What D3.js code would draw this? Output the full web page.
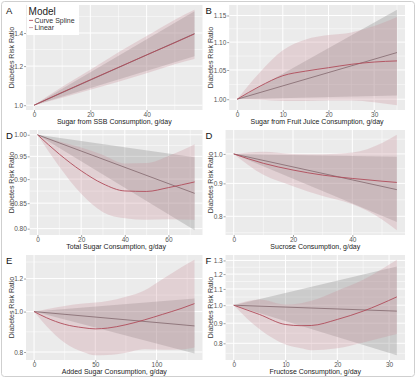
<!DOCTYPE html>
<html><head><meta charset="utf-8">
<script src="https://cdn.jsdelivr.net/npm/d3@7"></script>
<style>
body{margin:0;background:#fff}
svg{display:block}
text{font-family:"Liberation Sans",Arial,Helvetica,sans-serif}
</style>
</head><body>
<svg id="c" width="418" height="379"></svg>
<script>
// ---------- DATA ----------
// A: Sugar from SSB
const ssbX = [0,10,20,30,40,50,57];
const ssbSpline   = [1.000,1.062,1.126,1.193,1.264,1.338,1.394];
const ssbSplineLo = [1.000,1.035,1.075,1.115,1.160,1.210,1.240];
const ssbSplineHi = [1.000,1.090,1.180,1.280,1.380,1.490,1.560];
const ssbLinX = [0,57];
const ssbLinear   = [1.000,1.396];
const ssbLinearLo = [1.000,1.257];
const ssbLinearHi = [1.000,1.550];
const ssbXTicks = [0,20,40];
const ssbYTicks = [1.0,1.2,1.4];
const ssbYLabels = ["1.0","1.2","1.4"];

// B: Sugar from fruit juice
const juiceX = [0,5,10,15,20,25,30,35];
const juiceSpline   = [1.000,1.022,1.040,1.048,1.054,1.060,1.064,1.066];
const juiceSplineLo = [1.000,0.999,0.997,0.997,0.998,0.998,0.995,0.990];
const juiceSplineHi = [1.000,1.046,1.085,1.105,1.113,1.118,1.130,1.147];
const juiceLinX = [0,35];
const juiceLinear   = [1.000,1.081];
const juiceLinearLo = [1.000,1.006];
const juiceLinearHi = [1.000,1.161];
const juiceXTicks = [0,10,20,30];
const juiceYTicks = [1.00,1.05,1.10,1.15];
const juiceYLabels = ["1.00","1.05","1.10","1.15"];

// D: Total sugar
const totalX = [0,10,20,30,40,50,60,72];
const totalSpline   = [1.000,0.955,0.918,0.890,0.875,0.874,0.882,0.894];
const totalSplineLo = [1.000,0.927,0.869,0.832,0.820,0.817,0.818,0.817];
const totalSplineHi = [1.000,0.984,0.970,0.953,0.934,0.935,0.951,0.978];
const totalLinX = [0,72];
const totalLinear   = [1.000,0.870];
const totalLinearLo = [1.000,0.797];
const totalLinearHi = [1.000,0.948];
const totalXTicks = [0,20,40,60];
const totalYTicks = [0.80,0.85,0.90,0.95,1.00];
const totalYLabels = ["0.80","0.85","0.90","0.95","1.00"];

// D: Sucrose
const sucroseX = [0,10,20,30,40,50,55];
const sucroseSpline   = [1.000,0.967,0.944,0.927,0.916,0.907,0.903];
const sucroseSplineLo = [1.000,0.928,0.891,0.860,0.835,0.791,0.761];
const sucroseSplineHi = [1.000,1.008,1.000,0.999,1.005,1.040,1.071];
const sucroseLinX = [0,55];
const sucroseLinear   = [1.000,0.880];
const sucroseLinearLo = [1.000,0.784];
const sucroseLinearHi = [1.000,0.990];
const sucroseXTicks = [0,20,40];
const sucroseYTicks = [0.8,0.9,1.0];
const sucroseYLabels = ["0.8","0.9","1.0"];

// E: Added sugar
const addedX = [0,10,25,40,50,60,75,90,105,120,131];
const addedSpline   = [1.000,0.967,0.932,0.915,0.909,0.913,0.930,0.955,0.985,1.017,1.045];
const addedSplineLo = [1.000,0.923,0.842,0.800,0.786,0.787,0.797,0.812,0.810,0.811,0.820];
const addedSplineHi = [1.000,1.013,1.032,1.046,1.051,1.060,1.085,1.124,1.197,1.276,1.331];
const addedLinX = [0,131];
const addedLinear   = [1.000,0.924];
const addedLinearLo = [1.000,0.794];
const addedLinearHi = [1.000,1.075];
const addedXTicks = [0,50,100];
const addedYTicks = [0.8,1.0,1.2];
const addedYLabels = ["0.8","1.0","1.2"];

// F: Fructose
const fructoseX = [0,5,10,13,15,20,25,31.5];
const fructoseSpline   = [1.000,0.947,0.893,0.887,0.888,0.920,0.966,1.050];
const fructoseSplineLo = [1.000,0.868,0.794,0.777,0.768,0.777,0.804,0.845];
const fructoseSplineHi = [1.000,1.034,1.004,1.012,1.026,1.089,1.161,1.305];
const fructoseLinX = [0,31.5];
const fructoseLinear   = [1.000,0.966];
const fructoseLinearLo = [1.000,0.746];
const fructoseLinearHi = [1.000,1.255];
const fructoseXTicks = [0,10,20,30];
const fructoseYTicks = [0.8,0.9,1.0,1.1,1.2,1.3];
const fructoseYLabels = ["0.8","0.9","1.0","1.1","1.2","1.3"];

const panelLetters = ["A","B","D","D","E","F"];
const xTitles = ["Sugar from SSB Consumption, g/day","Sugar from Fruit Juice Consumption, g/day",
  "Total Sugar Consumption, g/day","Sucrose Consumption, g/day",
  "Added Sugar Consumption, g/day","Fructose Consumption, g/day"];
const yTitle = "Diabetes Risk Ratio";
const legendTitle = "Model";
const legendLabels = ["Curve Spline","Linear"];

// ---------- BUILD ----------
const panels = [
  {x:ssbX,s:ssbSpline,sl:ssbSplineLo,sh:ssbSplineHi,lx:ssbLinX,l:ssbLinear,ll:ssbLinearLo,lh:ssbLinearHi,xt:ssbXTicks,yt:ssbYTicks,yl:ssbYLabels},
  {x:juiceX,s:juiceSpline,sl:juiceSplineLo,sh:juiceSplineHi,lx:juiceLinX,l:juiceLinear,ll:juiceLinearLo,lh:juiceLinearHi,xt:juiceXTicks,yt:juiceYTicks,yl:juiceYLabels},
  {x:totalX,s:totalSpline,sl:totalSplineLo,sh:totalSplineHi,lx:totalLinX,l:totalLinear,ll:totalLinearLo,lh:totalLinearHi,xt:totalXTicks,yt:totalYTicks,yl:totalYLabels},
  {x:sucroseX,s:sucroseSpline,sl:sucroseSplineLo,sh:sucroseSplineHi,lx:sucroseLinX,l:sucroseLinear,ll:sucroseLinearLo,lh:sucroseLinearHi,xt:sucroseXTicks,yt:sucroseYTicks,yl:sucroseYLabels},
  {x:addedX,s:addedSpline,sl:addedSplineLo,sh:addedSplineHi,lx:addedLinX,l:addedLinear,ll:addedLinearLo,lh:addedLinearHi,xt:addedXTicks,yt:addedYTicks,yl:addedYLabels},
  {x:fructoseX,s:fructoseSpline,sl:fructoseSplineLo,sh:fructoseSplineHi,lx:fructoseLinX,l:fructoseLinear,ll:fructoseLinearLo,lh:fructoseLinearHi,xt:fructoseXTicks,yt:fructoseYTicks,yl:fructoseYLabels}
];

const svg = d3.select("#c");
svg.append("rect").attr("x",1.5).attr("y",1.5).attr("width",413).attr("height",375)
  .attr("rx",3).attr("fill","#fff").attr("stroke","#cfcfcf").attr("stroke-width",1);

const rowTops = [5,130,255];
const panelH = 105;
const colX = [0,199.5];
const colRight = [202.5,405];
const tickFont = 6.5;

const splineFill = "#C98B96", linearFill = "#8c8c8c";
const splineLine = "#B04C5A", linearLine = "#8a7176";

const measure = svg.append("text").attr("font-size",tickFont).attr("visibility","hidden");
function textW(s){ measure.text(s); return measure.node().getComputedTextLength(); }

let legendAnchor = null;

panels.forEach((p,i)=>{
  const col = i%2, row = Math.floor(i/2);
  const cx = colX[col];
  const top = rowTops[row], bottom = top+panelH;
  const maxW = d3.max(p.yl, textW);
  const left = cx + 14.5 + maxW + 2.5;
  const right = colRight[col];
  if(i===0) legendAnchor = {left, top};

  const xmax = d3.max(p.lx);
  const x = d3.scaleLinear().domain([-0.05*xmax, 1.05*xmax]).range([left,right]);
  const allV = [].concat(p.s,p.sl,p.sh,p.l,p.ll,p.lh).map(Math.log);
  const lnMin = d3.min(allV), lnMax = d3.max(allV), e = 0.05*(lnMax-lnMin);
  const y = d3.scaleLog().domain([Math.exp(lnMin-e), Math.exp(lnMax+e)]).range([bottom,top]);

  const g = svg.append("g");
  g.append("rect").attr("x",left).attr("y",top).attr("width",right-left).attr("height",bottom-top).attr("fill","#EBEBEB");

  // minor grid
  const xs = p.xt[1]-p.xt[0];
  const xExt = [p.xt[0]-xs, ...p.xt, p.xt[p.xt.length-1]+xs];
  const xMinor = d3.pairs(xExt).map(([a,b])=>(a+b)/2).filter(v=>v>=x.domain()[0]&&v<=x.domain()[1]);
  const lt = p.yt.map(Math.log);
  const ls0 = lt[1]-lt[0], ls1 = lt[lt.length-1]-lt[lt.length-2];
  const yExt = [lt[0]-ls0, ...lt, lt[lt.length-1]+ls1];
  const [d0,d1] = y.domain().map(Math.log);
  const yMinor = d3.pairs(yExt).map(([a,b])=>(a+b)/2).filter(v=>v>=d0&&v<=d1).map(Math.exp);

  g.selectAll(".xmn").data(xMinor).join("line").attr("x1",d=>x(d)).attr("x2",d=>x(d))
    .attr("y1",top).attr("y2",bottom).attr("stroke","#fff").attr("stroke-width",0.5);
  g.selectAll(".ymn").data(yMinor).join("line").attr("y1",d=>y(d)).attr("y2",d=>y(d))
    .attr("x1",left).attr("x2",right).attr("stroke","#fff").attr("stroke-width",0.5);
  g.selectAll(".xmj").data(p.xt).join("line").attr("x1",d=>x(d)).attr("x2",d=>x(d))
    .attr("y1",top).attr("y2",bottom).attr("stroke","#fff").attr("stroke-width",1);
  g.selectAll(".ymj").data(p.yt).join("line").attr("y1",d=>y(d)).attr("y2",d=>y(d))
    .attr("x1",left).attr("x2",right).attr("stroke","#fff").attr("stroke-width",1);

  // ribbons
  const linRows = p.lx.map((v,k)=>({x:v,m:p.l[k],lo:p.ll[k],hi:p.lh[k]}));
  const splRows = p.x.map((v,k)=>({x:v,m:p.s[k],lo:p.sl[k],hi:p.sh[k]}));
  const areaL = d3.area().x(d=>x(d.x)).y0(d=>y(d.lo)).y1(d=>y(d.hi));
  const areaS = d3.area().curve(d3.curveMonotoneX).x(d=>x(d.x)).y0(d=>y(d.lo)).y1(d=>y(d.hi));
  g.append("path").datum(linRows).attr("d",areaL).attr("fill",linearFill).attr("fill-opacity",0.33);
  g.append("path").datum(splRows).attr("d",areaS).attr("fill",splineFill).attr("fill-opacity",0.28);
  g.append("path").datum(linRows).attr("d",d3.line().x(d=>x(d.x)).y(d=>y(d.m)))
    .attr("fill","none").attr("stroke",linearLine).attr("stroke-width",0.9);
  g.append("path").datum(splRows).attr("d",d3.line().curve(d3.curveMonotoneX).x(d=>x(d.x)).y(d=>y(d.m)))
    .attr("fill","none").attr("stroke",splineLine).attr("stroke-width",0.9);

  // axes
  const ax = g.append("g").attr("transform",`translate(0,${bottom})`)
    .call(d3.axisBottom(x).tickValues(p.xt).tickFormat(d3.format("d")).tickSize(2).tickPadding(0.6));
  const ay = g.append("g").attr("transform",`translate(${left},0)`)
    .call(d3.axisLeft(y).tickValues(p.yt).tickFormat((d,k)=>p.yl[k]).tickSize(2).tickPadding(0.8));
  [ax,ay].forEach(a=>{
    a.select(".domain").remove();
    a.selectAll("line").attr("stroke","#444").attr("stroke-width",0.5);
    a.selectAll("text").attr("font-size",tickFont).attr("fill","#555").attr("font-family",null);
  });

  // titles
  g.append("text").attr("x",(left+right)/2).attr("y",bottom+14).attr("text-anchor","middle")
    .attr("font-size",7).attr("fill","#222").text(xTitles[i]);
  g.append("text").attr("transform",`translate(${cx+13.5},${(top+bottom)/2}) rotate(-90)`)
    .attr("text-anchor","middle").attr("font-size",7).attr("fill","#333").text(yTitle);
  g.append("text").attr("x",cx+6).attr("y",top+8.5).attr("font-size",9.5).attr("fill","#111").text(panelLetters[i]);
});
measure.remove();

// legend
const lg = svg.append("g");
const lx0 = legendAnchor.left+1;
lg.append("rect").attr("x",lx0).attr("y",3).attr("width",52).attr("height",32).attr("fill","#fff");
lg.append("text").attr("x",lx0+1.5).attr("y",14.5).attr("font-size",10).attr("fill","#222").text(legendTitle);
const keyCols = [splineLine,"#c9959e"];
legendLabels.forEach((t,k)=>{
  const yy = 20.4+k*7.2;
  lg.append("line").attr("x1",lx0+2).attr("x2",lx0+6).attr("y1",yy).attr("y2",yy)
    .attr("stroke",keyCols[k]).attr("stroke-width",0.9);
  lg.append("text").attr("x",lx0+7.5).attr("y",yy+2.4).attr("font-size",7).attr("fill","#333").text(t);
});
</script>
</body></html>
